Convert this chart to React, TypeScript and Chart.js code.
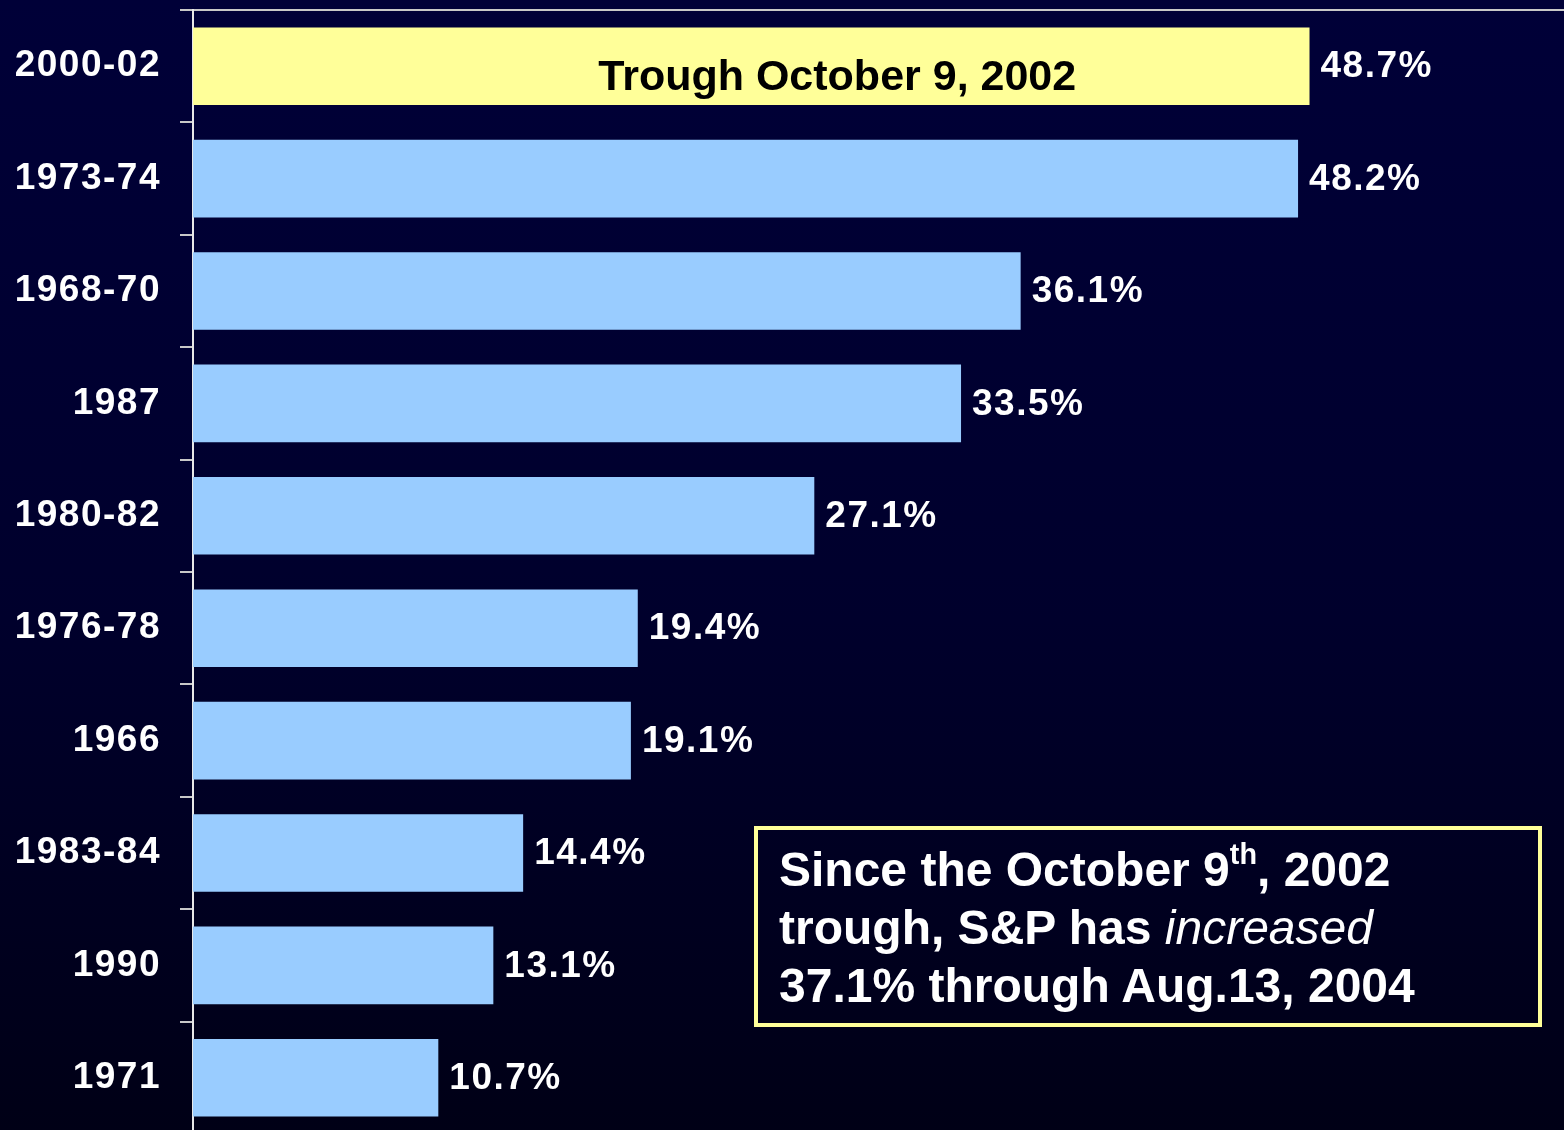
import React, { useEffect, useRef } from "react";
import { Chart, registerables } from "chart.js";

Chart.register(...registerables);

const categories = ["2000-02", "1973-74", "1968-70", "1987", "1980-82", "1976-78", "1966", "1983-84", "1990", "1971"];
const declines = [48.7, 48.2, 36.1, 33.5, 27.1, 19.4, 19.1, 14.4, 13.1, 10.7];
const barColors = ["#FFFF99", "#99CCFF", "#99CCFF", "#99CCFF", "#99CCFF", "#99CCFF", "#99CCFF", "#99CCFF", "#99CCFF", "#99CCFF"];
const highlightLabel = "Trough October 9, 2002";
const highlightLabelAt = 28.1;
const xMin = 0;
const xMax = 59.8;

const spacingPlugin = {
  id: "letterSpacing",
  beforeDraw(chart: any) {
    (chart.ctx as any).letterSpacing = "1.5px";
  },
  afterDraw(chart: any) {
    (chart.ctx as any).letterSpacing = "0px";
  },
};

const labelPlugin = {
  id: "barLabels",
  afterDatasetsDraw(chart: any) {
    const ctx = chart.ctx;
    const meta = chart.getDatasetMeta(0);
    ctx.save();
    (ctx as any).letterSpacing = "1.5px";
    meta.data.forEach((bar: any, i: number) => {
      ctx.fillStyle = "#FFFFFF";
      ctx.font = 'bold 37px "Liberation Sans", Arial, sans-serif';
      ctx.textAlign = "left";
      ctx.textBaseline = "middle";
      ctx.fillText(declines[i].toFixed(1) + "%", bar.x + 11, bar.y + 1);
    });
    const first = meta.data[0];
    if (first) {
      (ctx as any).letterSpacing = "0px";
      ctx.fillStyle = "#000000";
      ctx.font = 'bold 43px "Liberation Sans", Arial, sans-serif';
      ctx.textAlign = "center";
      ctx.textBaseline = "alphabetic";
      ctx.fillText(highlightLabel, chart.scales.x.getPixelForValue(highlightLabelAt), first.y + 24);
    }
    ctx.restore();
  },
};

export default function App() {
  const canvasRef = useRef<HTMLCanvasElement | null>(null);

  useEffect(() => {
    if (!canvasRef.current) return;
    const chart = new Chart(canvasRef.current, {
      type: "bar",
      data: {
        labels: categories,
        datasets: [
          {
            data: declines,
            backgroundColor: barColors,
            borderWidth: 0,
            categoryPercentage: 0.69,
            barPercentage: 1,
          },
        ],
      },
      options: {
        indexAxis: "y",
        animation: false,
        responsive: true,
        maintainAspectRatio: false,
        layout: { padding: { top: 10, right: 0, left: 0, bottom: 0 } },
        plugins: {
          legend: { display: false },
          tooltip: { enabled: false },
        },
        scales: {
          x: {
            position: "top",
            min: xMin,
            max: xMax,
            ticks: { display: false },
            grid: { display: false, drawTicks: false },
            border: { display: true, color: "#C8C8C8", width: 2 },
            afterFit: (scale: any) => {
              scale.height = 0;
              scale.paddingLeft = 0;
              scale.paddingRight = 0;
            },
          },
          y: {
            offset: true,
            ticks: {
              color: "#FFFFFF",
              padding: 19,
              font: { family: '"Liberation Sans", Arial, sans-serif', size: 37, weight: "bold" },
            },
            grid: {
              offset: true,
              drawOnChartArea: false,
              drawTicks: true,
              tickLength: 13,
              color: "#C8C8C8",
              lineWidth: 2,
            },
            border: { display: true, color: "#E8E8E8", width: 2 },
            afterFit: (scale: any) => {
              scale.width = 193;
              scale.paddingTop = 0;
              scale.paddingBottom = 0;
            },
          },
        },
      },
      plugins: [spacingPlugin, labelPlugin],
    });
    return () => chart.destroy();
  }, []);

  return (
    <div
      style={{
        position: "fixed",
        left: 0,
        top: 0,
        width: 1564,
        height: 1130,
        overflow: "hidden",
        background: "linear-gradient(to bottom, #000038 0%, #00002c 55%, #000016 100%)",
      }}
    >
      <div style={{ position: "absolute", left: 0, top: 0, width: 1564, height: 1134 }}>
        <canvas ref={canvasRef} />
      </div>
      <div
        style={{
          position: "absolute",
          left: 754,
          top: 826,
          width: 788,
          height: 201,
          boxSizing: "border-box",
          border: "4px solid #FFFF99",
          color: "#FFFFFF",
          fontFamily: '"Liberation Sans", Arial, sans-serif',
          fontWeight: "bold",
          fontSize: 48,
          lineHeight: "58px",
          padding: "11px 0 0 21px",
          whiteSpace: "nowrap",
        }}
      >
        <div>
          Since the October 9<sup style={{ fontSize: "0.6em", lineHeight: 0, verticalAlign: "0.75em" }}>th</sup>, 2002
        </div>
        <div>
          trough, S&amp;P has <span style={{ fontStyle: "italic", fontWeight: "normal" }}>increased</span>
        </div>
        <div>37.1% through Aug.13, 2004</div>
      </div>
    </div>
  );
}
